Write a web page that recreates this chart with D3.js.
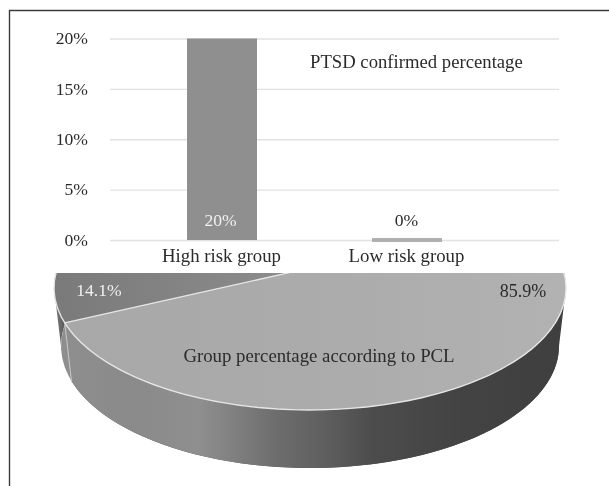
<!DOCTYPE html>
<html><head><meta charset="utf-8">
<script src="https://cdn.jsdelivr.net/npm/d3@7"></script>
<style>html,body{margin:0;padding:0;background:#fff}svg{display:block;filter:blur(0.35px)}text{font-family:"Liberation Serif",serif}</style>
</head><body><div id="c"></div>
<script>
const barCategories = ["High risk group", "Low risk group"];
const barValues = [20, 0];
const barTicks = [0, 5, 10, 15, 20];
const pieLabels = ["Group percentage according to PCL", "Other"];
const pieValues = [85.9, 14.1];
const barColors = ["#8f8f8f", "#b0b0b0"];
const barTitle = "PTSD confirmed percentage";
const pieTitle = "Group percentage according to PCL";

const W = 609, H = 486;
const svg = d3.select("#c").append("svg").attr("width", W).attr("height", H);
const defs = svg.append("defs");

// frame
svg.append("path").attr("d", "M609.5,10.5H9.5V486").attr("fill", "none").attr("stroke", "#3c3c3c").attr("stroke-width", 1.4);

// ---- bar chart
const x = d3.scaleBand().domain(barCategories).range([187, 442]).paddingInner(115 / 185).paddingOuter(0);
const y = d3.scaleLinear().domain([0, 20]).range([240, 38.5]);
const axis = d3.axisLeft(y).tickValues(barTicks).tickFormat(d => d + "%").tickSize(-449).tickPadding(22);
const ag = svg.append("g").attr("transform", "translate(110,0)").call(axis);
ag.select(".domain").remove();
ag.selectAll("line").attr("stroke", "#e2e2e2").attr("stroke-width", 1.4);
ag.selectAll("text").attr("font-size", 17.6).attr("fill", "#2b2b2b").style("font-family", '"Liberation Serif",serif').attr("dy", "0.3em");

svg.selectAll("rect.bar").data(barValues).join("rect").attr("class", "bar")
  .attr("x", (d, i) => x(barCategories[i])).attr("width", x.bandwidth())
  .attr("y", d => y(d) - (d === 0 ? 2 : 0)).attr("height", d => y(0) - y(d) + (d === 0 ? 4 : 0))
  .attr("fill", (d, i) => barColors[i]);

svg.selectAll("text.val").data(barValues).join("text").attr("class", "val")
  .attr("x", (d, i) => x(barCategories[i]) + x.bandwidth() / 2 - (i ? 0.5 : 1.5))
  .attr("y", 226).attr("text-anchor", "middle").attr("font-size", 17.6)
  .attr("fill", (d, i) => i === 0 ? "#f0f0f0" : "#2b2b2b").text(d => d + "%");

svg.selectAll("text.cat").data(barCategories).join("text").attr("class", "cat")
  .attr("x", d => x(d) + x.bandwidth() / 2 - 0.5).attr("y", 261.5).attr("text-anchor", "middle")
  .attr("font-size", 18.8).attr("fill", "#2b2b2b").text(d => d);

svg.append("text").attr("x", 310).attr("y", 67.5).attr("font-size", 18.7).attr("fill", "#2b2b2b").text(barTitle);

// ---- 3D pie
const cx = 310, cy = 288, rx = 256, ry = 122;
const bcy = 346, brx = 249, apex = [310, 268];
const top_ = t => [cx + rx * Math.sin(t), cy - ry * Math.cos(t)];
const bot = t => [cx + brx * Math.sin(t), bcy - ry * Math.cos(t)];
const deg = d => d * Math.PI / 180;
const samples = (a, b) => d3.range(0, 121).map(i => a + (b - a) * i / 120);
const line = d3.line();

const pie = d3.pie().sort(null).startAngle(deg(304.1)).endAngle(deg(304.1) + 2 * Math.PI);
const arcs = pie(pieValues);
const big = arcs[0], small = arcs[1];
const boundary = small.startAngle;          // 253.3deg of the way round

const clipId = "pieClip";
defs.append("clipPath").attr("id", clipId).append("rect").attr("x", 0).attr("y", 273).attr("width", W).attr("height", H);

const grad = (id, stops, x1, x2, y1 = 0, y2 = 0) => {
  const g = defs.append("linearGradient").attr("id", id).attr("gradientUnits", "userSpaceOnUse")
    .attr("x1", x1).attr("x2", x2).attr("y1", y1).attr("y2", y2);
  stops.forEach(([o, c]) => g.append("stop").attr("offset", o).attr("stop-color", c));
};
grad("sideBig", [[0, "#8e8e8e"], [0.14, "#8a8a8a"], [0.27, "#8f8f8f"], [0.42, "#6e6e6e"], [0.52, "#5f5f5f"], [0.62, "#4c4c4c"], [0.8, "#434343"], [1, "#3f3f3f"]], 65, 562);
grad("sideSmall", [[0, "#808080"], [1, "#4e4e4e"]], 54, 68);
grad("faceBig", [[0, "#a8a8a8"], [0.5, "#ababab"], [1, "#b2b2b2"]], 65, 566);
grad("faceSmall", [[0, "#7a7a7a"], [1, "#8c8c8c"]], 54, 290);

const pg = svg.append("g").attr("clip-path", `url(#${clipId})`);

// side walls
const sideSmallAngles = samples(boundary, deg(270));
pg.append("path").attr("fill", "url(#sideSmall)")
  .attr("d", line([...sideSmallAngles.map(top_), ...sideSmallAngles.slice().reverse().map(bot)]) + "Z");
const sideBigAngles = samples(deg(90), boundary);
pg.append("path").attr("fill", "url(#sideBig)")
  .attr("d", line([...sideBigAngles.map(top_), ...sideBigAngles.slice().reverse().map(bot)]) + "Z");
pg.append("path").attr("fill", "none").attr("stroke", "#c9c9c9").attr("stroke-width", 1)
  .attr("d", line([top_(boundary), bot(boundary)]));

// top faces
const facePath = a => line([apex, ...samples(a.startAngle, a.endAngle).map(top_)]) + "Z";
pg.append("path").attr("d", facePath(small)).attr("fill", "url(#faceSmall)");
pg.append("path").attr("d", facePath(big)).attr("fill", "url(#faceBig)");
pg.append("path").attr("fill", "none").attr("stroke", "#e6e6e6").attr("stroke-width", 1.3)
  .attr("d", line(samples(deg(97), boundary).map(top_)));
pg.append("path").attr("fill", "none").attr("stroke", "#e6e6e6").attr("stroke-width", 1.3)
  .attr("d", line([apex, top_(boundary)]));

// pie labels
const pieText = [
  { s: pieValues[1] + "%", x: 99, y: 296, c: "#f0f0f0", f: 17.6 },
  { s: pieValues[0] + "%", x: 523, y: 297, c: "#2b2b2b", f: 18 },
  { s: pieTitle, x: 319, y: 362, c: "#2b2b2b", f: 18.8 }
];
svg.selectAll("text.pl").data(pieText).join("text").attr("class", "pl")
  .attr("x", d => d.x).attr("y", d => d.y).attr("text-anchor", "middle")
  .attr("font-size", d => d.f).attr("fill", d => d.c).text(d => d.s);
</script></body></html>
